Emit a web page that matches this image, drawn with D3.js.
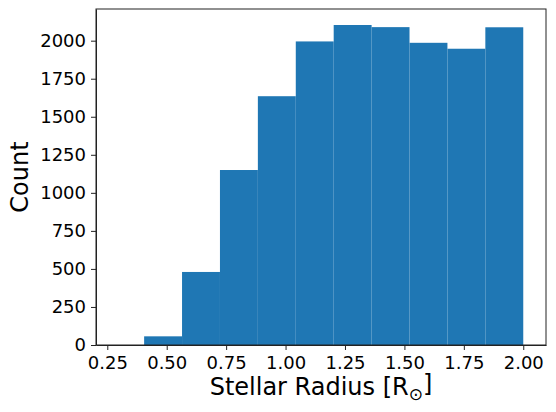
<!DOCTYPE html>
<meta charset="utf-8">
<style>
body { margin: 0; background: #fff; }
text { font-family: "DejaVu Sans", sans-serif; fill: #000; }
.axis path, .axis line { stroke: #222; }
</style>
<body>
<svg width="556" height="412"></svg>
<script src="https://d3js.org/d3.v7.min.js"></script>
<script>

// histogram bin edges (solar radii) and counts per bin
var binEdges = [0.405, 0.5645, 0.724, 0.8835, 1.043, 1.2025, 1.362, 1.5215, 1.681, 1.8405, 2.0];
var counts = [57, 480, 1150, 1635, 1995, 2103, 2089, 1986, 1947, 2088];
var xTicks = [0.25, 0.50, 0.75, 1.00, 1.25, 1.50, 1.75, 2.00];
var yTicks = [0, 250, 500, 750, 1000, 1250, 1500, 1750, 2000];

var svg = d3.select("svg"),
    margin = {top: 9, right: 10, bottom: 67, left: 96},
    width = 546 - margin.left,
    height = 345 - margin.top,
    g = svg.append("g").attr("transform", "translate(" + margin.left + "," + margin.top + ")");

var x = d3.scaleLinear()
    .domain([0.2025, 2.0957])
    .range([0, width]);

var y = d3.scaleLinear()
    .domain([0, d3.max(counts) * 1.05])
    .range([height, 0]);

var bins = counts.map(function(c, i) {
  return {x0: binEdges[i], x1: binEdges[i + 1], count: c};
});

g.selectAll(".bar")
  .data(bins)
  .enter().append("rect")
    .attr("class", "bar")
    .attr("x", function(d) { return x(d.x0); })
    .attr("width", function(d) { return x(d.x1) - x(d.x0); })
    .attr("y", function(d) { return y(d.count); })
    .attr("height", function(d) { return height - y(d.count); })
    .attr("fill", "#1f77b4");

var xAxis = g.append("g")
    .attr("class", "axis")
    .attr("transform", "translate(0," + height + ")")
    .call(d3.axisBottom(x)
      .tickValues(xTicks)
      .tickFormat(d3.format(".2f"))
      .tickSizeInner(5)
      .tickSizeOuter(0)
      .tickPadding(4));

var yAxis = g.append("g")
    .attr("class", "axis")
    .call(d3.axisLeft(y)
      .tickValues(yTicks)
      .tickFormat(d3.format("d"))
      .tickSizeInner(5)
      .tickSizeOuter(0)
      .tickPadding(5));

g.selectAll(".axis text")
    .style("font-size", "18px")
    .style("font-family", "DejaVu Sans");
xAxis.selectAll("text").attr("dy", "0.85em");

// frame (all four spines)
g.append("rect")
    .attr("width", width)
    .attr("height", height)
    .attr("fill", "none")
    .attr("stroke", "#222")
    .attr("stroke-width", 1);

var xLabel = svg.append("text")
    .attr("x", margin.left + width / 2)
    .attr("y", 395)
    .attr("text-anchor", "middle")
    .style("font-size", "24px");
xLabel.append("tspan").text("Stellar Radius [R");
xLabel.append("tspan")
    .attr("dy", "0.3em")
    .style("font-size", "17px")
    .text("\u2299");
xLabel.append("tspan")
    .attr("dy", "-0.35em")
    .text("]");

svg.append("text")
    .attr("transform", "translate(28," + (margin.top + height / 2) + ") rotate(-90)")
    .attr("text-anchor", "middle")
    .style("font-size", "24px")
    .text("Count");

</script>
</body>
